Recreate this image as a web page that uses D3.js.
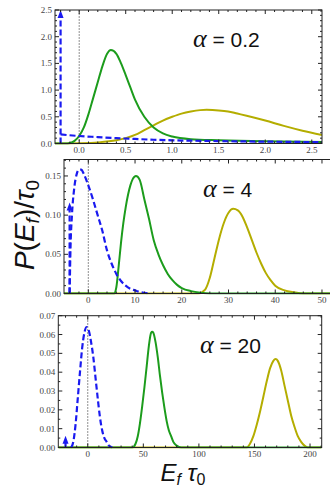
<!DOCTYPE html>
<html><head><meta charset="utf-8">
<script src="https://cdn.jsdelivr.net/npm/d3@7"></script>
<style>html,body{margin:0;padding:0;background:#fff;}svg{display:block;}</style>
</head><body>
<script>
// ---------- data ----------
const alphas = ["0.2", "4", "20"];

// panel 1 (alpha = 0.2)
const p1Green = [[-0.26,0],[-0.15,0],[-0.1,0.01],[-0.05,0.05],[0,0.14],[0.05,0.3],[0.1,0.55],[0.15,0.85],[0.2,1.15],[0.25,1.45],[0.3,1.68],[0.34,1.75],[0.4,1.68],[0.45,1.5],[0.5,1.28],[0.55,1.05],[0.6,0.82],[0.7,0.5],[0.8,0.3],[0.9,0.19],[1.0,0.13],[1.2,0.08],[1.5,0.06],[2.0,0.04],[2.61,0.03]];
const p1Olive = [[-0.26,0],[-0.2,0],[0,0.005],[0.2,0.02],[0.4,0.06],[0.5,0.1],[0.6,0.16],[0.7,0.25],[0.8,0.34],[0.9,0.43],[1.0,0.5],[1.1,0.56],[1.2,0.6],[1.3,0.625],[1.37,0.63],[1.5,0.62],[1.6,0.6],[1.7,0.56],[1.8,0.52],[2.0,0.43],[2.2,0.33],[2.4,0.24],[2.61,0.16]];
const p1Blue = [[-0.2,0.17],[0,0.14],[0.2,0.12],[0.4,0.1],[0.6,0.085],[0.8,0.07],[1.0,0.06],[1.5,0.045],[2.0,0.035],[2.61,0.025]];
const p1Delta = [-0.2, 2.5];

// panel 2 (alpha = 4)
const p2Green = [[-5.2,0],[5.5,0],[6,0.008],[6.5,0.035],[7,0.065],[7.5,0.09],[8,0.11],[8.5,0.126],[9,0.138],[9.5,0.146],[10.2,0.15],[11,0.145],[12,0.12],[13,0.095],[14,0.068],[15,0.05],[16,0.036],[17,0.025],[18,0.017],[19,0.011],[20,0.007],[22,0.003],[24,0.001],[26,0],[53,0]];
const p2Olive = [[-5.2,0],[23.5,0],[25,0.005],[26,0.02],[27,0.045],[28,0.07],[29,0.09],[30,0.103],[31,0.108],[32,0.106],[33,0.098],[34,0.084],[35,0.068],[36,0.052],[37,0.038],[38,0.026],[39,0.017],[40,0.01],[42,0.004],[44,0.0015],[46,0],[53,0]];
const p2Blue = [[-4,0],[-3.8,0.06],[-3.5,0.1],[-3,0.135],[-2.5,0.152],[-2,0.158],[-1.5,0.158],[-1,0.153],[0,0.138],[1,0.12],[2,0.1],[3,0.08],[4,0.055],[5,0.038],[6,0.025],[7,0.016],[8,0.01],[9,0.006],[10,0.004],[11,0.002],[12,0.001],[13,0]];
const p2Delta = [-4, 0.116];

// panel 3 (alpha = 20)
const p3Green = [[-26.5,0],[40,0],[43,0.002],[45,0.006],[47,0.013],[49,0.022],[51,0.032],[53,0.043],[55,0.054],[57,0.061],[58,0.0615],[59,0.061],[61,0.056],[63,0.048],[65,0.038],[67,0.029],[69,0.021],[71,0.014],[73,0.009],[75,0.006],[77,0.003],[80,0.001],[84,0],[210.5,0]];
const p3Olive = [[-26.5,0],[143,0],[146,0.002],[149,0.006],[152,0.012],[155,0.019],[158,0.027],[161,0.035],[164,0.042],[167,0.046],[169,0.047],[171,0.046],[174,0.041],[177,0.033],[180,0.025],[183,0.017],[186,0.011],[189,0.006],[192,0.003],[195,0.001],[198,0],[210.5,0]];
const p3Blue = [[-15,0],[-13,0.003],[-11,0.012],[-9,0.026],[-7,0.04],[-5,0.053],[-3,0.061],[-1,0.064],[1,0.062],[3,0.056],[5,0.048],[7,0.037],[9,0.026],[11,0.016],[13,0.009],[15,0.005],[17,0.003],[19,0.001],[21,0.0003],[22,0]];
const p3Delta = [-20, 0.0062];

const p1XTicks = [0, 0.5, 1.0, 1.5, 2.0, 2.5];
const p1YTicks = [0, 0.5, 1.0, 1.5, 2.0, 2.5];
const p2XTicks = [0, 10, 20, 30, 40, 50];
const p2YTicks = [0, 0.05, 0.10, 0.15];
const p3XTicks = [0, 50, 100, 150, 200];
const p3YTicks = [0, 0.01, 0.02, 0.03, 0.04, 0.05, 0.06, 0.07];

// ---------- layout ----------
const W = 330, H = 489;
const GREEN = "#1c9c1c", OLIVE = "#b4ad00", BLUE = "#1a1af0";

const panels = [
  {xd:[-0.26,2.61], yd:[0,2.5], l:55, r:322, t:10, b:143.5,
   xt:p1XTicks, yt:p1YTicks, xminor:0.1, yminor:0.1, xf:d3.format(".1f"), yf:d3.format(".1f"),
   green:p1Green, olive:p1Olive, blue:p1Blue, delta:p1Delta, alpha:alphas[0], ax:193, ay:47},
  {xd:[-5.2,53], yd:[0,0.171], l:64, r:336, t:159.5, b:293.5,
   xt:p2XTicks, yt:p2YTicks, xminor:2, yminor:0.01, xf:d3.format("d"), yf:d3.format(".2f"),
   green:p2Green, olive:p2Olive, blue:p2Blue, delta:p2Delta, alpha:alphas[1], ax:203, ay:197},
  {xd:[-26.5,210.5], yd:[0,0.07], l:58.3, r:321.7, t:315.7, b:447.5,
   xt:p3XTicks, yt:p3YTicks, xminor:10, yminor:0.005, xf:d3.format("d"), yf:d3.format(".2f"),
   green:p3Green, olive:p3Olive, blue:p3Blue, delta:p3Delta, alpha:alphas[2], ax:200, ay:353}
];

const svg = d3.select("body").append("svg").attr("width", W).attr("height", H)
  .style("font-family", "'Liberation Serif', serif");

panels.forEach((p, i) => {
  const x = d3.scaleLinear().domain(p.xd).range([p.l, p.r]);
  const y = d3.scaleLinear().domain(p.yd).range([p.b, p.t]);
  const g = svg.append("g");
  const cid = "clip" + i;
  svg.append("clipPath").attr("id", cid).append("rect")
    .attr("x", p.l).attr("y", p.t - 1).attr("width", p.r - p.l).attr("height", p.b - p.t + 2);

  // zero dotted line
  g.append("line").attr("x1", x(0)).attr("x2", x(0)).attr("y1", p.b).attr("y2", p.t)
    .attr("stroke", "#222").attr("stroke-width", 1).attr("stroke-dasharray", "1,2");

  const line = d3.line().x(d => x(d[0])).y(d => y(d[1])).curve(d3.curveMonotoneX);
  const cg = g.append("g").attr("clip-path", `url(#${cid})`);
  cg.append("path").attr("d", line(p.olive)).attr("fill", "none").attr("stroke", OLIVE).attr("stroke-width", 2);
  cg.append("path").attr("d", line(p.green)).attr("fill", "none").attr("stroke", GREEN).attr("stroke-width", 2);
  cg.append("path").attr("d", line(p.blue)).attr("fill", "none").attr("stroke", BLUE).attr("stroke-width", 2.2)
    .attr("stroke-dasharray", "6,3");
  // delta arrow
  const dx = x(p.delta[0]), dtop = y(p.delta[1]);
  cg.append("line").attr("x1", dx).attr("x2", dx).attr("y1", p.b).attr("y2", dtop + 6)
    .attr("stroke", BLUE).attr("stroke-width", 2.2).attr("stroke-dasharray", "6,3");
  cg.append("path").attr("d", `M${dx},${dtop} L${dx-3},${dtop+8} L${dx+3},${dtop+8} Z`).attr("fill", BLUE);

  // frame
  g.append("rect").attr("x", p.l).attr("y", p.t).attr("width", p.r - p.l).attr("height", p.b - p.t)
    .attr("fill", "none").attr("stroke", "#222").attr("stroke-width", 1);

  // ticks (inside, all four sides)
  const xMinor = d3.range(Math.ceil(p.xd[0] / p.xminor) * p.xminor, p.xd[1], p.xminor);
  const yMinor = d3.range(0, p.yd[1] + 1e-9, p.yminor);
  const tg = g.append("g").attr("stroke", "#222").attr("stroke-width", 1);
  xMinor.forEach(v => {
    const major = p.xt.some(t => Math.abs(t - v) < p.xminor / 10);
    const len = major ? 4 : 2;
    tg.append("line").attr("x1", x(v)).attr("x2", x(v)).attr("y1", p.b).attr("y2", p.b - len);
    tg.append("line").attr("x1", x(v)).attr("x2", x(v)).attr("y1", p.t).attr("y2", p.t + len);
  });
  yMinor.forEach(v => {
    const major = p.yt.some(t => Math.abs(t - v) < p.yminor / 10);
    const len = major ? 4 : 2;
    tg.append("line").attr("x1", p.l).attr("x2", p.l + len).attr("y1", y(v)).attr("y2", y(v));
    tg.append("line").attr("x1", p.r).attr("x2", p.r - len).attr("y1", y(v)).attr("y2", y(v));
  });

  // tick labels
  p.xt.forEach(v => {
    g.append("text").attr("x", x(v)).attr("y", p.b + 9).attr("text-anchor", "middle")
      .attr("font-size", 9).attr("fill", "#444").text(p.xf(v));
  });
  p.yt.forEach(v => {
    g.append("text").attr("x", p.l - 3).attr("y", y(v) + 3).attr("text-anchor", "end")
      .attr("font-size", 9).attr("fill", "#444").text(p.yf(v));
  });

  // alpha annotation
  const at = g.append("text").attr("x", p.ax).attr("y", p.ay).attr("fill", "#111");
  at.append("tspan").attr("font-family", "'Liberation Serif', serif").attr("font-style", "italic")
    .attr("font-size", 26).text("α");
  at.append("tspan").attr("font-family", "'Liberation Sans', sans-serif").attr("font-size", 21)
    .text(" = " + p.alpha);
});

// axis titles
const yt = svg.append("text").attr("transform", "translate(34,225) rotate(-90)")
  .attr("text-anchor", "middle").attr("font-family", "'Liberation Sans', sans-serif")
  .attr("font-size", 28).attr("fill", "#111");
yt.append("tspan").attr("font-style", "italic").text("P");
yt.append("tspan").text("(");
yt.append("tspan").attr("font-style", "italic").text("E");
yt.append("tspan").attr("font-style", "italic").attr("font-size", 19).attr("dy", 5).text("f");
yt.append("tspan").attr("dy", -5).text(")/");
yt.append("tspan").attr("font-style", "italic").text("τ");
yt.append("tspan").attr("font-size", 19).attr("dy", 5).text("0");

const xt = svg.append("text").attr("x", 183).attr("y", 481)
  .attr("text-anchor", "middle").attr("font-family", "'Liberation Sans', sans-serif")
  .attr("font-size", 24).attr("fill", "#111");
xt.append("tspan").attr("font-style", "italic").text("E");
xt.append("tspan").attr("font-style", "italic").attr("font-size", 16).attr("dy", 4).text("f");
xt.append("tspan").attr("font-style", "italic").attr("dy", -4).text(" τ");
xt.append("tspan").attr("font-size", 16).attr("dy", 4).text("0");
</script>
</body></html>
